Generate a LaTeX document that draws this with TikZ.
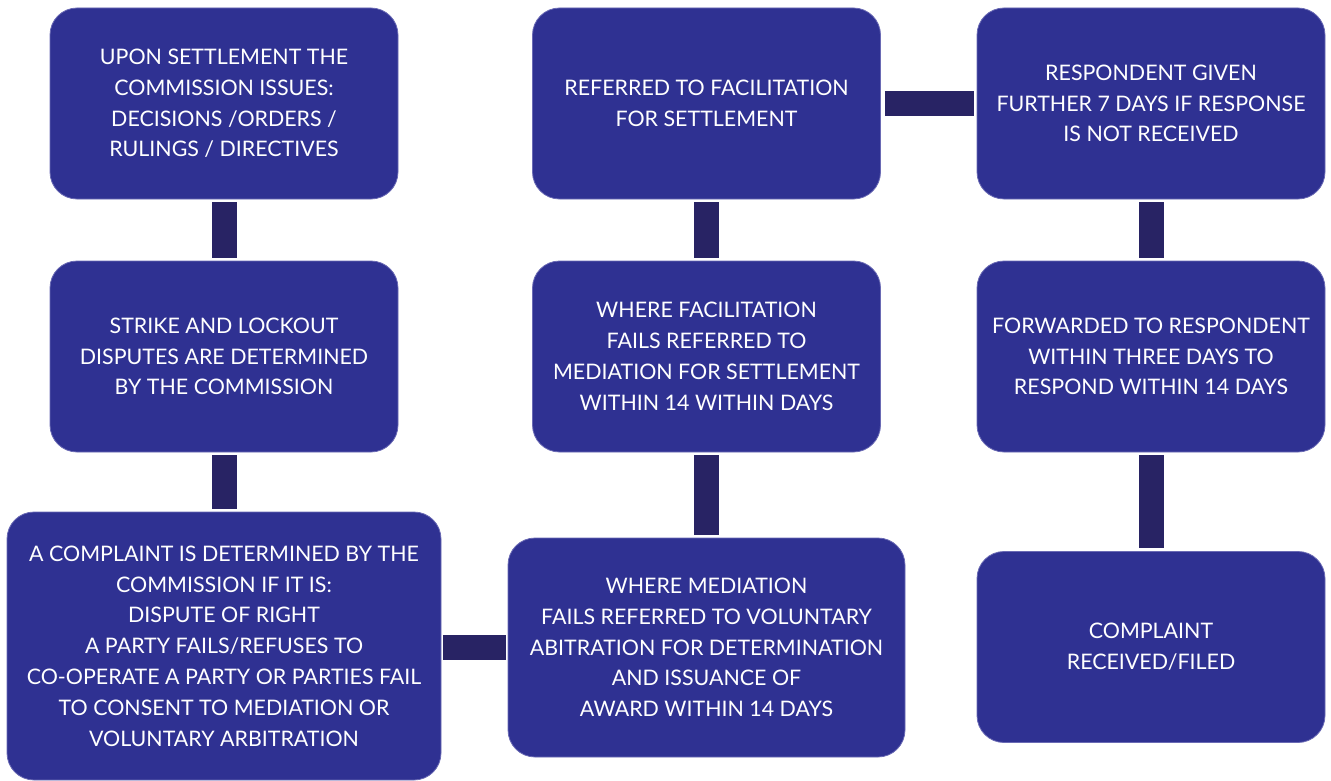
\documentclass[tikz,border=0pt]{standalone}
\usepackage{fontspec}
\setmainfont{Lato}
\definecolor{boxfill}{HTML}{2F3192}
\definecolor{boxedge}{HTML}{6A6AB4}
\definecolor{connc}{HTML}{282364}
\begin{document}
\begin{tikzpicture}[x=1pt,y=-1pt,
  box/.style={draw=boxedge, line width=0.8pt, fill=boxfill, rounded corners=27pt,
    text=white, align=center, inner sep=0pt,
    font=\fontsize{21.4}{30.8}\selectfont},
  conn/.style={draw=connc, line width=25pt}]
\useasboundingbox (0,0) rectangle (1331,781);
% left column
\node[box, minimum width=348, minimum height=191] (b1) at (224,103.5)
  {UPON SETTLEMENT THE\\COMMISSION ISSUES:\\DECISIONS /ORDERS /\\RULINGS / DIRECTIVES};
\node[box, minimum width=348, minimum height=191] (b2) at (224,356.5)
  {STRIKE AND LOCKOUT\\DISPUTES ARE DETERMINED\\BY THE COMMISSION};
\node[box, minimum width=434, minimum height=268] (b3) at (224,646)
  {A COMPLAINT IS DETERMINED BY THE\\COMMISSION IF IT IS:\\DISPUTE OF RIGHT\\A PARTY FAILS/REFUSES TO\\CO-OPERATE A PARTY OR PARTIES FAIL\\TO CONSENT TO MEDIATION OR\\VOLUNTARY ARBITRATION};
% middle column
\node[box, minimum width=348, minimum height=191] (b4) at (706.5,103.5)
  {REFERRED TO FACILITATION\\FOR SETTLEMENT};
\node[box, minimum width=348, minimum height=191] (b5) at (706.5,356.5)
  {WHERE FACILITATION\\FAILS REFERRED TO\\MEDIATION FOR SETTLEMENT\\WITHIN 14 WITHIN DAYS};
\node[box, minimum width=397, minimum height=219] (b6) at (706.5,647.5)
  {WHERE MEDIATION\\FAILS REFERRED TO VOLUNTARY\\ABITRATION FOR DETERMINATION\\AND ISSUANCE OF\\AWARD WITHIN 14 DAYS};
% right column
\node[box, minimum width=348, minimum height=191] (b7) at (1151,103.5)
  {RESPONDENT GIVEN\\FURTHER 7 DAYS IF RESPONSE\\IS NOT RECEIVED};
\node[box, minimum width=348, minimum height=191] (b8) at (1151,356.5)
  {FORWARDED TO RESPONDENT\\WITHIN THREE DAYS TO\\RESPOND WITHIN 14 DAYS};
\node[box, minimum width=348, minimum height=191] (b9) at (1151,647)
  {COMPLAINT\\RECEIVED/FILED};
% connectors
\draw[conn, shorten <=3pt, shorten >=3pt] (b1.south) -- (b2.north);
\draw[conn, shorten <=3pt, shorten >=3pt] (b2.south) -- (b3.north);
\draw[conn, shorten <=2pt, shorten >=2pt] (b3.east |- b6.west) -- (b6.west);
\draw[conn, shorten <=3pt, shorten >=3pt] (b4.south) -- (b5.north);
\draw[conn, shorten <=3pt, shorten >=3pt] (b5.south) -- (b6.north);
\draw[conn, shorten <=4pt, shorten >=3pt] (b4.east) -- (b7.west);
\draw[conn, shorten <=3pt, shorten >=3pt] (b7.south) -- (b8.north);
\draw[conn, shorten <=3pt, shorten >=3pt] (b8.south) -- (b9.north);
\end{tikzpicture}
\end{document}
